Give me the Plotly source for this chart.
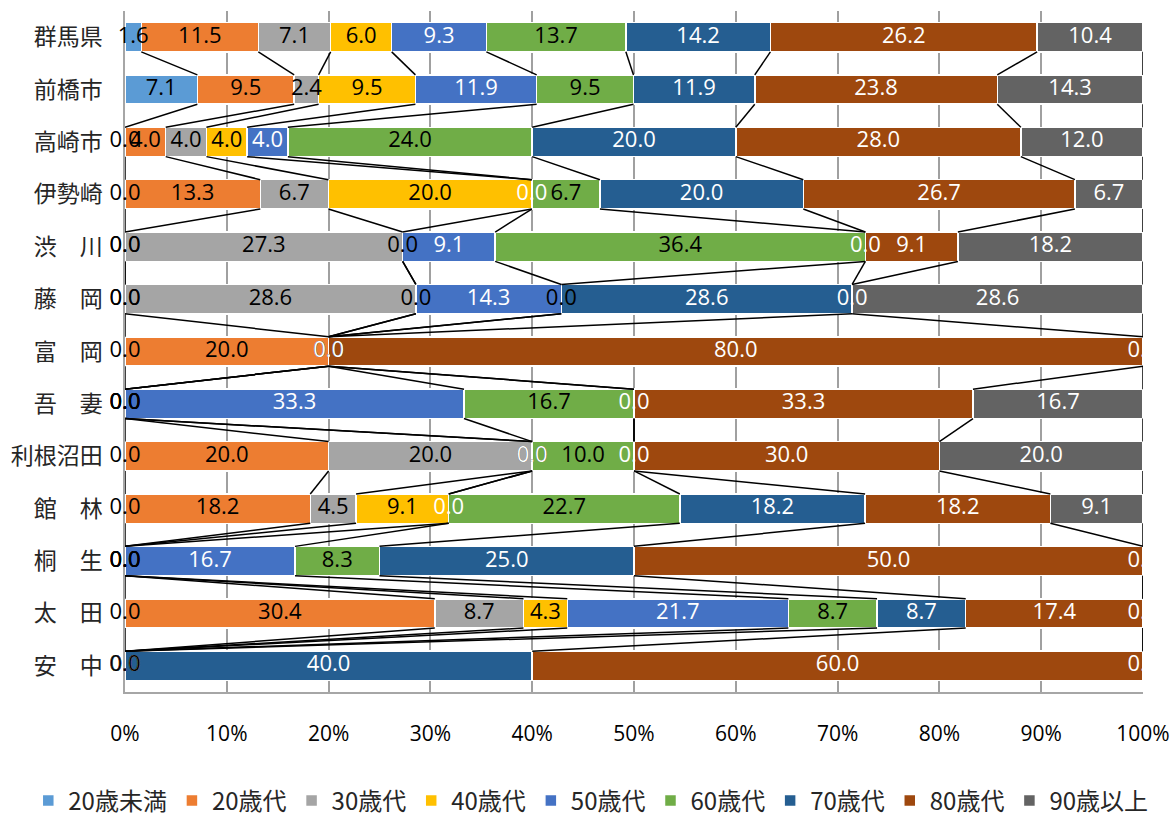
import plotly.graph_objects as go

# Age composition by area (percent of total, each row sums to ~100)
categories = ["群馬県", "前橋市", "高崎市", "伊勢崎", "渋　川", "藤　岡", "富　岡",
              "吾　妻", "利根沼田", "館　林", "桐　生", "太　田", "安　中"]

series_names = ["20歳未満", "20歳代", "30歳代", "40歳代", "50歳代",
                "60歳代", "70歳代", "80歳代", "90歳以上"]

under20 = [1.6, 7.1, 0.0, 0.0, 0.0, 0.0, 0.0, 0.0, 0.0, 0.0, 0.0, 0.0, 0.0]
age20s = [11.5, 9.5, 4.0, 13.3, 0.0, 0.0, 20.0, 0.0, 20.0, 18.2, 0.0, 30.4, 0.0]
age30s = [7.1, 2.4, 4.0, 6.7, 27.3, 28.6, 0.0, 0.0, 20.0, 4.5, 0.0, 8.7, 0.0]
age40s = [6.0, 9.5, 4.0, 20.0, 0.0, 0.0, 0.0, 0.0, 0.0, 9.1, 0.0, 4.3, 0.0]
age50s = [9.3, 11.9, 4.0, 0.0, 9.1, 14.3, 0.0, 33.3, 0.0, 0.0, 16.7, 21.7, 0.0]
age60s = [13.7, 9.5, 24.0, 6.7, 36.4, 0.0, 0.0, 16.7, 10.0, 22.7, 8.3, 8.7, 0.0]
age70s = [14.2, 11.9, 20.0, 20.0, 0.0, 28.6, 0.0, 0.0, 0.0, 18.2, 25.0, 8.7, 40.0]
age80s = [26.2, 23.8, 28.0, 26.7, 9.1, 0.0, 80.0, 33.3, 30.0, 18.2, 50.0, 17.4, 60.0]
over90 = [10.4, 14.3, 12.0, 6.7, 18.2, 28.6, 0.0, 16.7, 20.0, 9.1, 0.0, 0.0, 0.0]

x_ticks = [0, 10, 20, 30, 40, 50, 60, 70, 80, 90, 100]
x_tick_labels = ["0%", "10%", "20%", "30%", "40%", "50%", "60%", "70%", "80%", "90%", "100%"]

series_values = [under20, age20s, age30s, age40s, age50s, age60s, age70s, age80s, over90]
colors = ["#5B9BD5", "#ED7D31", "#A5A5A5", "#FFC000", "#4472C4",
          "#70AD47", "#255E91", "#9E480E", "#636363"]
label_colors = ["#000000", "#000000", "#000000", "#000000", "#ffffff",
                "#000000", "#ffffff", "#ffffff", "#ffffff"]

BAR_W = 0.56
n_cat = len(categories)
ypos = list(range(n_cat))

# normalised cumulative positions (same as barnorm="percent")
totals = [sum(s[i] for s in series_values) for i in range(n_cat)]
cum_start = []
cum_end = []
running = [0.0] * n_cat
for s in series_values:
    start = running[:]
    end = [running[i] + s[i] / totals[i] * 100 for i in range(n_cat)]
    cum_start.append(start)
    cum_end.append(end)
    running = end

fig = go.Figure()

for k, (name, vals) in enumerate(zip(series_names, series_values)):
    fig.add_trace(go.Bar(
        name=name, y=ypos, x=vals, orientation="h", width=BAR_W,
        marker=dict(color=colors[k], line=dict(color="white", width=1.5)),
        hoverinfo="skip",
    ))

# series lines joining the end of each series from one bar to the next
lx, ly = [], []
for k in range(len(series_values)):
    for i in range(n_cat - 1):
        lx += [cum_end[k][i], cum_end[k][i + 1], None]
        ly += [i + BAR_W / 2, i + 1 - BAR_W / 2, None]
fig.add_trace(go.Scatter(x=lx, y=ly, mode="lines",
                         line=dict(color="black", width=1.5),
                         showlegend=False, hoverinfo="skip"))

# data labels centred on each segment
for k, vals in enumerate(series_values):
    xs = [(cum_start[k][i] + cum_end[k][i]) / 2 for i in range(n_cat)]
    fig.add_trace(go.Scatter(
        x=xs, y=ypos, mode="text", text=[f"{v:.1f}" for v in vals],
        textposition="middle center",
        textfont=dict(family="Open Sans, Noto Sans, sans-serif", size=22,
                      color=label_colors[k]),
        cliponaxis=False, showlegend=False, hoverinfo="skip",
    ))

fig.update_layout(
    barmode="stack", barnorm="percent",
    width=1176, height=823,
    margin=dict(l=125, r=33, t=11, b=131, autoexpand=False),
    paper_bgcolor="white", plot_bgcolor="white",
    font=dict(family="Noto Sans CJK JP, sans-serif", color="#262626"),
    showlegend=True,
    legend=dict(orientation="h", x=-0.095, xanchor="left", y=-0.127, yanchor="top",
                font=dict(family="Noto Sans CJK JP, sans-serif", size=24, color="#262626"),
                itemwidth=30, tracegroupgap=0, traceorder="normal"),
    xaxis=dict(range=[0, 100], tickvals=x_ticks, ticktext=x_tick_labels,
               showgrid=True, gridcolor="#a0a0a0", gridwidth=1.5,
               showline=True, linecolor="#a6a6a6", linewidth=1.5,
               zeroline=False, ticks="", ticklabelstandoff=22,
               tickfont=dict(family="Open Sans, sans-serif", size=21, color="#000000")),
    yaxis=dict(range=[n_cat - 0.5, -0.5], tickvals=ypos, ticktext=categories,
               showgrid=False, zeroline=False, layer="below traces",
               showline=True, linecolor="#a6a6a6", linewidth=1.5,
               ticks="", ticklabelstandoff=16,
               tickfont=dict(family="Noto Sans CJK JP, sans-serif", size=23, color="#262626")),
)

fig.write_html("out.html")
